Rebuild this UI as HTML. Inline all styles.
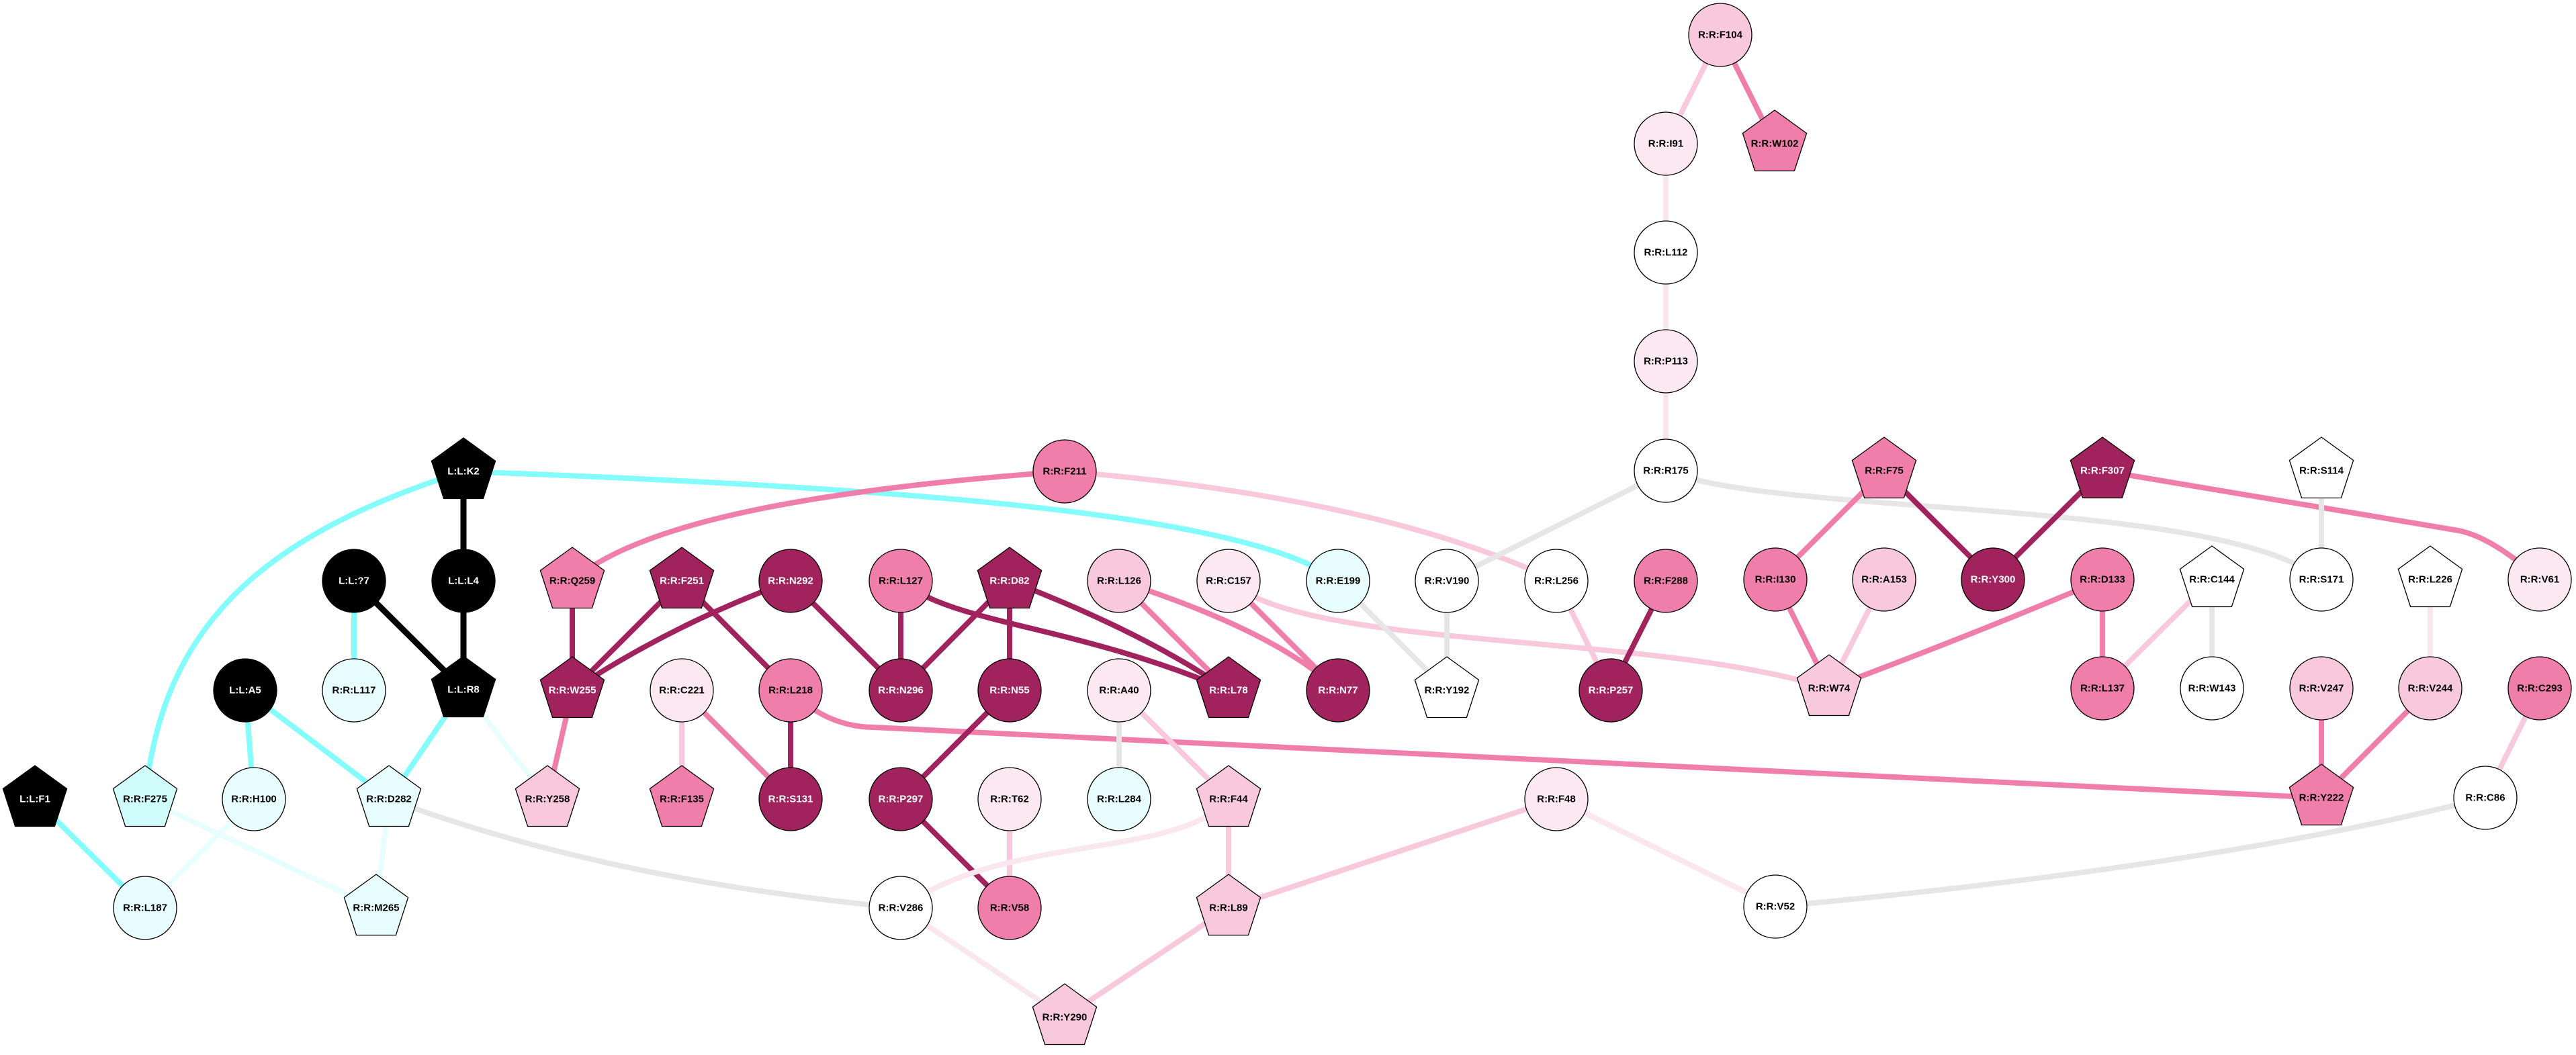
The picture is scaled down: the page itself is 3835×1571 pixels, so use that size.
<!DOCTYPE html>
<html><head><meta charset="utf-8"><style>
html,body{margin:0;padding:0;background:#fff}
svg{display:block}
text{font-family:"Liberation Sans",sans-serif;font-weight:bold;font-size:15px;text-anchor:middle;dominant-baseline:central}
.w{fill:#fff}
path,line{fill:none;stroke-width:8}
.cy{stroke:#84fcfc}.bk{stroke:#000;stroke-width:9}.dk{stroke:#a0235e}.md{stroke:#f07eaa}.lt{stroke:#f8c8dc}.vl{stroke:#fae6ef}.gr{stroke:#e6e6e6}.vc{stroke:#e8fefe}
circle,polygon{stroke:#000;stroke-width:1.3}
</style></head><body>
<svg width="3835" height="1571" viewBox="0 0 3835 1571" xmlns="http://www.w3.org/2000/svg">
<defs><polygon id="p" points="0,-50 47.6,-15.5 29.4,40.5 -29.4,40.5 -47.6,-15.5"/></defs>
<line class="bk" x1="690" y1="702" x2="690" y2="865"/>
<line class="bk" x1="690" y1="865" x2="690" y2="1027"/>
<line class="bk" x1="527" y1="865" x2="690" y2="1027"/>
<line class="cy" x1="527" y1="865" x2="527" y2="1028"/>
<path class="cy" d="M690,702 C380,800 240,940 216,1190"/>
<path class="cy" d="M690,702 C1300,725 1850,760 1992,865"/>
<line class="cy" x1="365" y1="1028" x2="378" y2="1190"/>
<line class="cy" x1="365" y1="1028" x2="579" y2="1190"/>
<line class="cy" x1="690" y1="1027" x2="579" y2="1190"/>
<line class="vc" x1="690" y1="1027" x2="815" y2="1190"/>
<line class="cy" x1="52" y1="1190" x2="216" y2="1352"/>
<line class="vc" x1="378" y1="1190" x2="216" y2="1352"/>
<line class="vc" x1="216" y1="1190" x2="560" y2="1352"/>
<line class="vc" x1="579" y1="1190" x2="560" y2="1352"/>
<path class="gr" d="M579,1190 Q900,1310 1341,1352"/>
<line class="dk" x1="852" y1="865" x2="852" y2="1028"/>
<line class="dk" x1="1015" y1="865" x2="852" y2="1028"/>
<path class="dk" d="M1177,865 Q1000,930 852,1028"/>
<line class="dk" x1="1015" y1="865" x2="1177" y2="1028"/>
<line class="dk" x1="1177" y1="865" x2="1341" y2="1028"/>
<line class="md" x1="852" y1="1028" x2="815" y2="1190"/>
<line class="lt" x1="1015" y1="1028" x2="1015" y2="1190"/>
<line class="md" x1="1015" y1="1028" x2="1177" y2="1190"/>
<line class="dk" x1="1177" y1="1028" x2="1177" y2="1190"/>
<path class="md" d="M1177,1028 Q1230,1082 1300,1083 L3456,1188"/>
<path class="md" d="M1585,702 C1200,730 950,780 852,865"/>
<path class="lt" d="M1585,702 Q2050,740 2317,865"/>
<line class="dk" x1="1341" y1="865" x2="1341" y2="1028"/>
<line class="dk" x1="1503" y1="865" x2="1341" y2="1028"/>
<path class="dk" d="M1341,865 C1420,930 1600,930 1829,1028"/>
<path class="dk" d="M1503,865 Q1700,940 1829,1028"/>
<line class="dk" x1="1503" y1="865" x2="1503" y2="1028"/>
<line class="dk" x1="1503" y1="1028" x2="1341" y2="1190"/>
<line class="dk" x1="1341" y1="1190" x2="1503" y2="1352"/>
<line class="lt" x1="1503" y1="1190" x2="1503" y2="1352"/>
<line class="md" x1="1666" y1="865" x2="1829" y2="1028"/>
<path class="md" d="M1666,865 Q1900,940 1992,1028"/>
<line class="md" x1="1829" y1="865" x2="1992" y2="1028"/>
<path class="lt" d="M1829,865 C1950,970 2450,940 2723,1025"/>
<line class="gr" x1="1992" y1="865" x2="2154" y2="1028"/>
<line class="gr" x1="2154" y1="865" x2="2154" y2="1028"/>
<line class="gr" x1="2480" y1="702" x2="2154" y2="865"/>
<path class="gr" d="M2480,701 C2650,770 3300,740 3456,863"/>
<line class="lt" x1="2317" y1="865" x2="2398" y2="1028"/>
<line class="dk" x1="2480" y1="865" x2="2398" y2="1028"/>
<line class="gr" x1="1666" y1="1028" x2="1666" y2="1190"/>
<line class="lt" x1="1666" y1="1028" x2="1829" y2="1190"/>
<path class="vl" d="M1829,1190 C1750,1280 1500,1240 1341,1352"/>
<line class="lt" x1="1829" y1="1190" x2="1829" y2="1352"/>
<line class="lt" x1="2317" y1="1190" x2="1829" y2="1352"/>
<line class="vl" x1="2317" y1="1190" x2="2643" y2="1350"/>
<line class="vl" x1="1341" y1="1352" x2="1585" y2="1515"/>
<line class="lt" x1="1829" y1="1352" x2="1585" y2="1515"/>
<line class="lt" x1="2561" y1="52" x2="2480" y2="214"/>
<line class="md" x1="2561" y1="52" x2="2642" y2="214"/>
<line class="vl" x1="2480" y1="214" x2="2480" y2="376"/>
<line class="vl" x1="2480" y1="376" x2="2480" y2="538"/>
<line class="vl" x1="2480" y1="538" x2="2480" y2="701"/>
<line class="md" x1="2805" y1="701" x2="2643" y2="863"/>
<line class="dk" x1="2805" y1="701" x2="2967" y2="863"/>
<line class="dk" x1="3130" y1="701" x2="2967" y2="863"/>
<path class="md" d="M3130,701 L3660,790 Q3710,800 3781,863"/>
<line class="md" x1="2643" y1="863" x2="2723" y2="1025"/>
<line class="lt" x1="2805" y1="863" x2="2723" y2="1025"/>
<path class="md" d="M3130,863 Q2950,940 2723,1025"/>
<line class="md" x1="3130" y1="863" x2="3130" y2="1025"/>
<line class="lt" x1="3293" y1="863" x2="3130" y2="1025"/>
<line class="gr" x1="3293" y1="863" x2="3293" y2="1025"/>
<line class="gr" x1="3456" y1="701" x2="3456" y2="863"/>
<line class="vl" x1="3618" y1="863" x2="3618" y2="1025"/>
<line class="md" x1="3456" y1="1025" x2="3456" y2="1188"/>
<line class="md" x1="3618" y1="1025" x2="3456" y2="1188"/>
<line class="lt" x1="3781" y1="1025" x2="3700" y2="1188"/>
<path class="gr" d="M3700,1188 Q3300,1290 2643,1350"/>
<g>
<use href="#p" x="690" y="702" fill="#000"/><text class="w" x="690" y="702">L:L:K2</text>
<circle cx="690" cy="865" r="47" fill="#000"/><text class="w" x="690" y="865">L:L:L4</text>
<circle cx="527" cy="865" r="47" fill="#000"/><text class="w" x="527" y="865">L:L:?7</text>
<use href="#p" x="690" y="1027" fill="#000"/><text class="w" x="690" y="1027">L:L:R8</text>
<circle cx="365" cy="1028" r="47" fill="#000"/><text class="w" x="365" y="1028">L:L:A5</text>
<circle cx="527" cy="1028" r="47" fill="#e8fefe"/><text x="527" y="1028">R:R:L117</text>
<use href="#p" x="52" y="1190" fill="#000"/><text class="w" x="52" y="1190">L:L:F1</text>
<use href="#p" x="216" y="1190" fill="#d0fcfc"/><text x="216" y="1190">R:R:F275</text>
<circle cx="378" cy="1190" r="47" fill="#e8fefe"/><text x="378" y="1190">R:R:H100</text>
<use href="#p" x="579" y="1190" fill="#e8fefe"/><text x="579" y="1190">R:R:D282</text>
<use href="#p" x="815" y="1190" fill="#f8c8dc"/><text x="815" y="1190">R:R:Y258</text>
<use href="#p" x="1015" y="1190" fill="#f07eaa"/><text x="1015" y="1190">R:R:F135</text>
<circle cx="1177" cy="1190" r="47" fill="#a0235e"/><text class="w" x="1177" y="1190">R:R:S131</text>
<circle cx="216" cy="1352" r="47" fill="#e8fefe"/><text x="216" y="1352">R:R:L187</text>
<use href="#p" x="560" y="1352" fill="#e8fefe"/><text x="560" y="1352">R:R:M265</text>
<use href="#p" x="852" y="865" fill="#f07eaa"/><text x="852" y="865">R:R:Q259</text>
<use href="#p" x="1015" y="865" fill="#a0235e"/><text class="w" x="1015" y="865">R:R:F251</text>
<circle cx="1177" cy="865" r="47" fill="#a0235e"/><text class="w" x="1177" y="865">R:R:N292</text>
<use href="#p" x="852" y="1028" fill="#a0235e"/><text class="w" x="852" y="1028">R:R:W255</text>
<circle cx="1015" cy="1028" r="47" fill="#fce8f0"/><text x="1015" y="1028">R:R:C221</text>
<circle cx="1177" cy="1028" r="47" fill="#f07eaa"/><text x="1177" y="1028">R:R:L218</text>
<circle cx="1585" cy="702" r="47" fill="#f07eaa"/><text x="1585" y="702">R:R:F211</text>
<circle cx="2480" cy="701" r="47" fill="#fff"/><text x="2480" y="701">R:R:R175</text>
<circle cx="1341" cy="865" r="47" fill="#f07eaa"/><text x="1341" y="865">R:R:L127</text>
<use href="#p" x="1503" y="865" fill="#a0235e"/><text class="w" x="1503" y="865">R:R:D82</text>
<circle cx="1666" cy="865" r="47" fill="#f8c8dc"/><text x="1666" y="865">R:R:L126</text>
<circle cx="1829" cy="865" r="47" fill="#fce8f0"/><text x="1829" y="865">R:R:C157</text>
<circle cx="1992" cy="865" r="47" fill="#e8fefe"/><text x="1992" y="865">R:R:E199</text>
<circle cx="2154" cy="865" r="47" fill="#fff"/><text x="2154" y="865">R:R:V190</text>
<circle cx="2317" cy="865" r="47" fill="#fff"/><text x="2317" y="865">R:R:L256</text>
<circle cx="2480" cy="865" r="47" fill="#f07eaa"/><text x="2480" y="865">R:R:F288</text>
<circle cx="1341" cy="1028" r="47" fill="#a0235e"/><text class="w" x="1341" y="1028">R:R:N296</text>
<circle cx="1503" cy="1028" r="47" fill="#a0235e"/><text class="w" x="1503" y="1028">R:R:N55</text>
<circle cx="1666" cy="1028" r="47" fill="#fce8f0"/><text x="1666" y="1028">R:R:A40</text>
<use href="#p" x="1829" y="1028" fill="#a0235e"/><text class="w" x="1829" y="1028">R:R:L78</text>
<circle cx="1992" cy="1028" r="47" fill="#a0235e"/><text class="w" x="1992" y="1028">R:R:N77</text>
<use href="#p" x="2154" y="1028" fill="#fff"/><text x="2154" y="1028">R:R:Y192</text>
<circle cx="2398" cy="1028" r="47" fill="#a0235e"/><text class="w" x="2398" y="1028">R:R:P257</text>
<circle cx="1341" cy="1190" r="47" fill="#a0235e"/><text class="w" x="1341" y="1190">R:R:P297</text>
<circle cx="1503" cy="1190" r="47" fill="#fce8f0"/><text x="1503" y="1190">R:R:T62</text>
<circle cx="1666" cy="1190" r="47" fill="#e8fefe"/><text x="1666" y="1190">R:R:L284</text>
<use href="#p" x="1829" y="1190" fill="#f8c8dc"/><text x="1829" y="1190">R:R:F44</text>
<circle cx="2317" cy="1190" r="47" fill="#fce8f0"/><text x="2317" y="1190">R:R:F48</text>
<circle cx="1341" cy="1352" r="47" fill="#fff"/><text x="1341" y="1352">R:R:V286</text>
<circle cx="1503" cy="1352" r="47" fill="#f07eaa"/><text x="1503" y="1352">R:R:V58</text>
<use href="#p" x="1829" y="1352" fill="#f8c8dc"/><text x="1829" y="1352">R:R:L89</text>
<use href="#p" x="1585" y="1515" fill="#f8c8dc"/><text x="1585" y="1515">R:R:Y290</text>
<circle cx="2561" cy="52" r="47" fill="#f8c8dc"/><text x="2561" y="52">R:R:F104</text>
<circle cx="2480" cy="214" r="47" fill="#fce8f0"/><text x="2480" y="214">R:R:I91</text>
<use href="#p" x="2642" y="214" fill="#f07eaa"/><text x="2642" y="214">R:R:W102</text>
<circle cx="2480" cy="376" r="47" fill="#fff"/><text x="2480" y="376">R:R:L112</text>
<circle cx="2480" cy="538" r="47" fill="#fce8f0"/><text x="2480" y="538">R:R:P113</text>
<use href="#p" x="2805" y="701" fill="#f07eaa"/><text x="2805" y="701">R:R:F75</text>
<use href="#p" x="3130" y="701" fill="#a0235e"/><text class="w" x="3130" y="701">R:R:F307</text>
<use href="#p" x="3456" y="701" fill="#fff"/><text x="3456" y="701">R:R:S114</text>
<circle cx="2643" cy="863" r="47" fill="#f07eaa"/><text x="2643" y="863">R:R:I130</text>
<circle cx="2805" cy="863" r="47" fill="#f8c8dc"/><text x="2805" y="863">R:R:A153</text>
<circle cx="2967" cy="863" r="47" fill="#a0235e"/><text class="w" x="2967" y="863">R:R:Y300</text>
<circle cx="3130" cy="863" r="47" fill="#f07eaa"/><text x="3130" y="863">R:R:D133</text>
<use href="#p" x="3293" y="863" fill="#fff"/><text x="3293" y="863">R:R:C144</text>
<circle cx="3456" cy="863" r="47" fill="#fff"/><text x="3456" y="863">R:R:S171</text>
<use href="#p" x="3618" y="863" fill="#fff"/><text x="3618" y="863">R:R:L226</text>
<circle cx="3781" cy="863" r="47" fill="#fce8f0"/><text x="3781" y="863">R:R:V61</text>
<use href="#p" x="2723" y="1025" fill="#f8c8dc"/><text x="2723" y="1025">R:R:W74</text>
<circle cx="3130" cy="1025" r="47" fill="#f07eaa"/><text x="3130" y="1025">R:R:L137</text>
<circle cx="3293" cy="1025" r="47" fill="#fff"/><text x="3293" y="1025">R:R:W143</text>
<circle cx="3456" cy="1025" r="47" fill="#f8c8dc"/><text x="3456" y="1025">R:R:V247</text>
<circle cx="3618" cy="1025" r="47" fill="#f8c8dc"/><text x="3618" y="1025">R:R:V244</text>
<circle cx="3781" cy="1025" r="47" fill="#f07eaa"/><text x="3781" y="1025">R:R:C293</text>
<use href="#p" x="3456" y="1188" fill="#f07eaa"/><text x="3456" y="1188">R:R:Y222</text>
<circle cx="3700" cy="1188" r="47" fill="#fff"/><text x="3700" y="1188">R:R:C86</text>
<circle cx="2643" cy="1350" r="47" fill="#fff"/><text x="2643" y="1350">R:R:V52</text>
</g>
</svg>
</body></html>
